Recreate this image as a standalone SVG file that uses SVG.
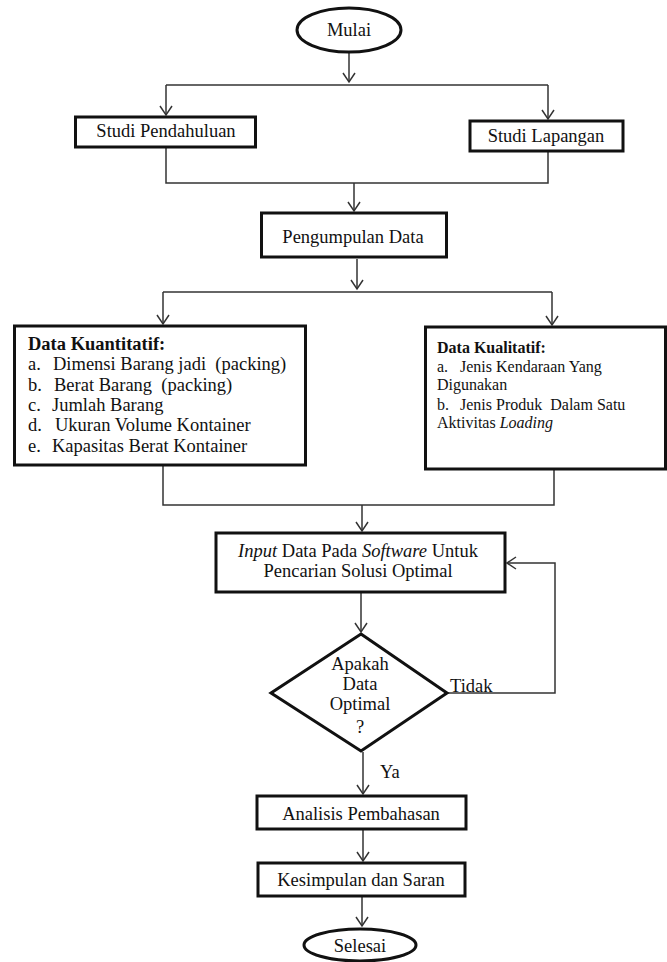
<svg xmlns="http://www.w3.org/2000/svg" width="667" height="962" viewBox="0 0 667 962" font-family="'Liberation Serif', 'Times New Roman', 'DejaVu Serif', serif">
<defs>
<style>
text{font-family:'Liberation Serif','Times New Roman','DejaVu Serif',serif;font-size:18.5px;fill:#111}
.c{text-anchor:middle}
.s{font-size:16px}
.b{font-weight:bold}
.i{font-style:italic}
.node{fill:#fff;stroke:#111;stroke-width:3}
.conn{fill:none;stroke:#333;stroke-width:1.5}
</style>
<marker id="arr" markerUnits="userSpaceOnUse" markerWidth="14" markerHeight="14" viewBox="-11 -7 13 14" refX="0" refY="0" orient="auto">
<path d="M-9,-6 L0,0 L-9,6" fill="none" stroke="#333" stroke-width="1.5"/>
</marker>
</defs>
<rect width="667" height="962" fill="#fff"/>
<g id="connectors">
<path class="conn" d="M349,53 V82" marker-end="url(#arr)"/>
<path class="conn" d="M166,85 H548"/>
<path class="conn" d="M166,85 V115" marker-end="url(#arr)"/>
<path class="conn" d="M548,85 V119" marker-end="url(#arr)"/>
<path class="conn" d="M166,148 V183 H548 V152"/>
<path class="conn" d="M354,183 V211" marker-end="url(#arr)"/>
<path class="conn" d="M357,259 V289" marker-end="url(#arr)"/>
<path class="conn" d="M163,292 H552"/>
<path class="conn" d="M163,292 V324" marker-end="url(#arr)"/>
<path class="conn" d="M552,292 V325" marker-end="url(#arr)"/>
<path class="conn" d="M163,466 V505 H554 V470"/>
<path class="conn" d="M362,505 V531" marker-end="url(#arr)"/>
<path class="conn" d="M361,593 V632" marker-end="url(#arr)"/>
<path class="conn" d="M448,693 H555 V563 H507" marker-end="url(#arr)"/>
<path class="conn" d="M363,752 V794" marker-end="url(#arr)"/>
<path class="conn" d="M363,830 V861" marker-end="url(#arr)"/>
<path class="conn" d="M362,897 V926" marker-end="url(#arr)"/>
<text x="450" y="692">Tidak</text>
<text x="380" y="778">Ya</text>
</g>
<g id="mulai">
<ellipse class="node" cx="349" cy="30" rx="52" ry="22"/>
<text class="c" x="349" y="36">Mulai</text>
</g>
<g id="studi-pendahuluan">
<rect class="node" x="75.5" y="117" width="180" height="30"/>
<text class="c" x="166" y="137">Studi Pendahuluan</text>
</g>
<g id="studi-lapangan">
<rect class="node" x="470" y="121" width="153" height="30"/>
<text class="c" x="546" y="142">Studi Lapangan</text>
</g>
<g id="pengumpulan-data">
<rect class="node" x="261.5" y="213" width="185" height="44"/>
<text class="c" x="353" y="243">Pengumpulan Data</text>
</g>
<g id="data-kuantitatif">
<rect class="node" x="14.5" y="326" width="291" height="139"/>
<text class="b" x="28" y="350">Data Kuantitatif:</text>
<text x="28" y="370">a.</text><text x="53" y="370" xml:space="preserve">Dimensi Barang jadi  (packing)</text>
<text x="28" y="391">b.</text><text x="54" y="391" xml:space="preserve">Berat Barang  (packing)</text>
<text x="28" y="411">c.</text><text x="52" y="411">Jumlah Barang</text>
<text x="28" y="431">d.</text><text x="55" y="431">Ukuran Volume Kontainer</text>
<text x="28" y="452">e.</text><text x="52" y="452">Kapasitas Berat Kontainer</text>
</g>
<g id="data-kualitatif">
<rect class="node" x="425.5" y="327" width="240" height="142"/>
<text class="s b" x="437" y="353">Data Kualitatif:</text>
<text class="s" x="437" y="372">a.</text><text class="s" x="460" y="372">Jenis Kendaraan Yang</text>
<text class="s" x="437" y="390">Digunakan</text>
<text class="s" x="437" y="410">b.</text><text class="s" x="460" y="410" xml:space="preserve">Jenis Produk  Dalam Satu</text>
<text class="s" x="437" y="428">Aktivitas <tspan class="i">Loading</tspan></text>
</g>
<g id="input-data">
<rect class="node" x="216" y="533" width="289" height="59"/>
<text class="c" x="358" y="557"><tspan class="i">Input</tspan> Data Pada <tspan class="i">Software</tspan> Untuk</text>
<text class="c" x="358" y="577">Pencarian Solusi Optimal</text>
</g>
<g id="apakah-optimal">
<polygon class="node" points="361,634 447,693 361,751 271,693"/>
<text class="c" x="360" y="670">Apakah</text>
<text class="c" x="360" y="690">Data</text>
<text class="c" x="360" y="710">Optimal</text>
<text class="c" x="360" y="733">?</text>
</g>
<g id="analisis">
<rect class="node" x="257" y="796" width="209" height="33"/>
<text class="c" x="361" y="820">Analisis Pembahasan</text>
</g>
<g id="kesimpulan">
<rect class="node" x="258" y="863" width="207" height="33"/>
<text class="c" x="361" y="886">Kesimpulan dan Saran</text>
</g>
<g id="selesai">
<ellipse class="node" cx="360" cy="945" rx="56" ry="16"/>
<text class="c" x="360" y="952">Selesai</text>
</g>
</svg>
